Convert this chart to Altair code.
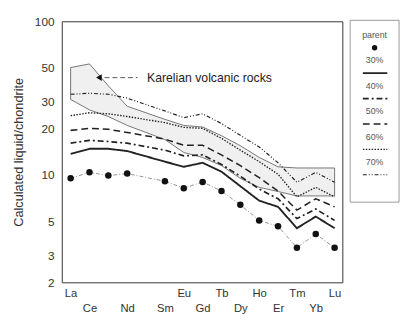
import json
import altair as alt
import pandas as pd

# ---- data ----
elements = ["La", "Ce", "Pr", "Nd", "Pm", "Sm", "Eu", "Gd", "Tb", "Dy", "Ho", "Er", "Tm", "Yb", "Lu"]
plot_elements = ["La", "Ce", "Pr", "Nd", "Sm", "Eu", "Gd", "Tb", "Dy", "Ho", "Er", "Tm", "Yb", "Lu"]
tick_labels = ["La", "Ce", "Nd", "Sm", "Eu", "Gd", "Tb", "Dy", "Ho", "Er", "Tm", "Yb", "Lu"]
lower_row = ["Ce", "Nd", "Sm", "Gd", "Dy", "Er", "Yb"]

parent = [9.5, 10.4, 9.9, 10.2, 9.1, 8.2, 9.0, 7.85, 6.4, 5.06, 4.63, 3.36, 4.12, 3.36]
s30 = [13.7, 14.8, 14.8, 14.3, 12.2, 11.3, 12.0, 10.5, 8.45, 6.8, 6.2, 4.5, 5.36, 4.5]
s40 = [16.1, 16.8, 16.5, 16.1, 14.5, 13.3, 13.5, 11.7, 9.8, 8.1, 7.0, 5.2, 6.0, 5.06]
s50 = [19.5, 20.1, 19.8, 18.9, 17.1, 15.6, 15.6, 13.5, 11.5, 9.6, 7.85, 5.9, 7.0, 6.2]
s60 = [24.3, 25.4, 25.0, 24.0, 21.9, 20.4, 20.1, 17.3, 14.5, 12.2, 10.1, 7.2, 8.3, 7.2]
s70 = [33.5, 34.0, 33.5, 31.6, 26.1, 23.6, 25.0, 21.6, 18.1, 15.2, 12.0, 8.95, 10.4, 8.95]

field_upper = [50, 52.8, 38, 28, 23, 21, 20.5, 18, 15.5, 13.0, 11.3, 11.1, 11.1, 11.1]
field_lower = [31, 26.5, 24, 21, 17, 14, 13, 11.5, 9.5, 8.3, 7.8, 7.3, 7.3, 7.3]

series_names = ["30%", "40%", "50%", "60%", "70%"]
series_values = [s30, s40, s50, s60, s70]
legend_names = ["parent"] + series_names

y_ticks = [2, 3, 5, 10, 20, 30, 50, 100]
annotation_text = "Karelian volcanic rocks"
annotation_x = 4.05
annotation_y = 43
leader_x = [1.8, 3.55]
arrow_x = 1.5

# ---- tables ----
idx = [elements.index(e) for e in plot_elements]
df_lines = pd.DataFrame(
    [{"series": n, "idx": i, "value": v} for n, vals in zip(series_names, series_values) for i, v in zip(idx, vals)]
)
df_parent = pd.DataFrame({"idx": idx, "value": parent})
df_field = pd.DataFrame({"idx": idx, "upper": field_upper, "lower": field_lower})
df_ann = pd.DataFrame({"label": [annotation_text], "idx": [annotation_x], "value": [annotation_y]})
df_leader = pd.DataFrame({"x1": [leader_x[0]], "x2": [leader_x[1]], "value": [annotation_y]})
df_arrow = pd.DataFrame({"idx": [arrow_x], "value": [annotation_y]})
df_leg = pd.DataFrame({"name": legend_names})

FONT = "Liberation Sans"
dashes = [[1, 0], [6, 3, 2, 3], [7, 4], [1.5, 1.5], [4, 2, 1, 2, 1, 2]]
widths = [1.9, 1.2, 1.4, 1.4, 1.1]
dash_scale = alt.Scale(domain=series_names, range=dashes)
width_scale = alt.Scale(domain=series_names, range=widths)

xscale = alt.Scale(domain=[-0.47, 14.41], nice=False, zero=False)
yscale = alt.Scale(type="log", domain=[2, 100], nice=False)

names_js = json.dumps(elements)
low_js = json.dumps([elements.index(e) for e in lower_row])
label_expr = f"indexof({low_js}, datum.value) >= 0 ? ['', {names_js}[datum.value]] : {names_js}[datum.value]"

xaxis = alt.Axis(
    values=[elements.index(e) for e in tick_labels], labelExpr=label_expr, title=None,
    ticks=False, domain=False, grid=False, labelFontSize=11.5, labelColor="#333",
    labelPadding=5, labelLineHeight=16, labelOverlap=False, labelFlush=False, labelBaseline="top",
)
yaxis = alt.Axis(
    values=y_ticks, format="~g", title="Calculated liquid/chondrite", titleFontSize=13,
    titleFontWeight="normal", titleColor="#333", titlePadding=9, ticks=False, domain=False,
    grid=False, labelPadding=8, labelFontSize=12, labelColor="#333",
)

X = alt.X("idx:Q", scale=xscale, axis=xaxis)
Y = alt.Y("value:Q", scale=yscale, axis=yaxis)

field = alt.Chart(df_field).mark_area(fill="#e2e2e2", fillOpacity=0.5, stroke="#555", strokeWidth=0.8).encode(
    x=X, y=alt.Y("upper:Q", scale=yscale, axis=yaxis), y2="lower:Q"
)
lines = alt.Chart(df_lines).mark_line(color="#222").encode(
    x=X, y=Y,
    strokeDash=alt.StrokeDash("series:N", scale=dash_scale, legend=None),
    strokeWidth=alt.StrokeWidth("series:N", scale=width_scale, legend=None),
    order="idx:Q",
)
parent_line = alt.Chart(df_parent).mark_line(color="#888", strokeWidth=0.9, strokeDash=[4, 2, 1, 2]).encode(x=X, y=Y)
parent_pts = alt.Chart(df_parent).mark_circle(size=44, color="#111", opacity=1).encode(x=X, y=Y)
ann = alt.Chart(df_ann).mark_text(align="left", baseline="middle", fontSize=12.5, color="#222", font=FONT).encode(
    x=X, y=Y, text="label:N"
)
leader = alt.Chart(df_leader).mark_rule(color="#444", strokeWidth=0.9, strokeDash=[5, 3]).encode(
    x=alt.X("x1:Q", scale=xscale, axis=xaxis), x2="x2:Q", y=Y
)
arrow = alt.Chart(df_arrow).mark_point(shape="triangle-left", filled=True, size=45, color="#111", opacity=1).encode(x=X, y=Y)

main = alt.layer(field, lines, parent_line, parent_pts, ann, leader, arrow)

ly = alt.Y("name:N", scale=alt.Scale(type="point", domain=legend_names, range=[27, 157], padding=0), axis=None)
box = alt.Chart(pd.DataFrame({"k": [0]})).mark_rect(fillOpacity=0, stroke="#999", strokeWidth=1).encode(
    x=alt.value(295), x2=alt.value(345), y=alt.value(-1), y2=alt.value(185)
)
leg_text = alt.Chart(df_leg).mark_text(dy=-13, fontSize=9, color="#555", font=FONT).encode(
    x=alt.value(320), y=ly, text="name:N"
)
leg_dot = alt.Chart(df_leg).transform_filter("datum.name == 'parent'").mark_circle(size=30, color="#111", opacity=1).encode(
    x=alt.value(320), y=ly
)
leg_lines = alt.Chart(df_leg).transform_filter("datum.name != 'parent'").mark_rule(color="#222").encode(
    x=alt.value(308), x2=alt.value(333), y=ly,
    strokeDash=alt.StrokeDash("name:N", scale=dash_scale, legend=None),
    strokeWidth=alt.StrokeWidth("name:N", scale=width_scale, legend=None),
)
legend = alt.layer(box, leg_text, leg_dot, leg_lines)

chart = (
    alt.layer(main, legend)
    .resolve_scale(y="independent")
    .properties(
        width=287, height=267,
        padding={"left": 55, "top": 10, "right": 60, "bottom": 38},
        autosize=alt.AutoSizeParams(type="none"),
    )
    .configure(font=FONT)
    .configure_view(stroke="#333", strokeWidth=1)
)

chart.save("out.html", embed_options={"renderer": "svg", "actions": False})
